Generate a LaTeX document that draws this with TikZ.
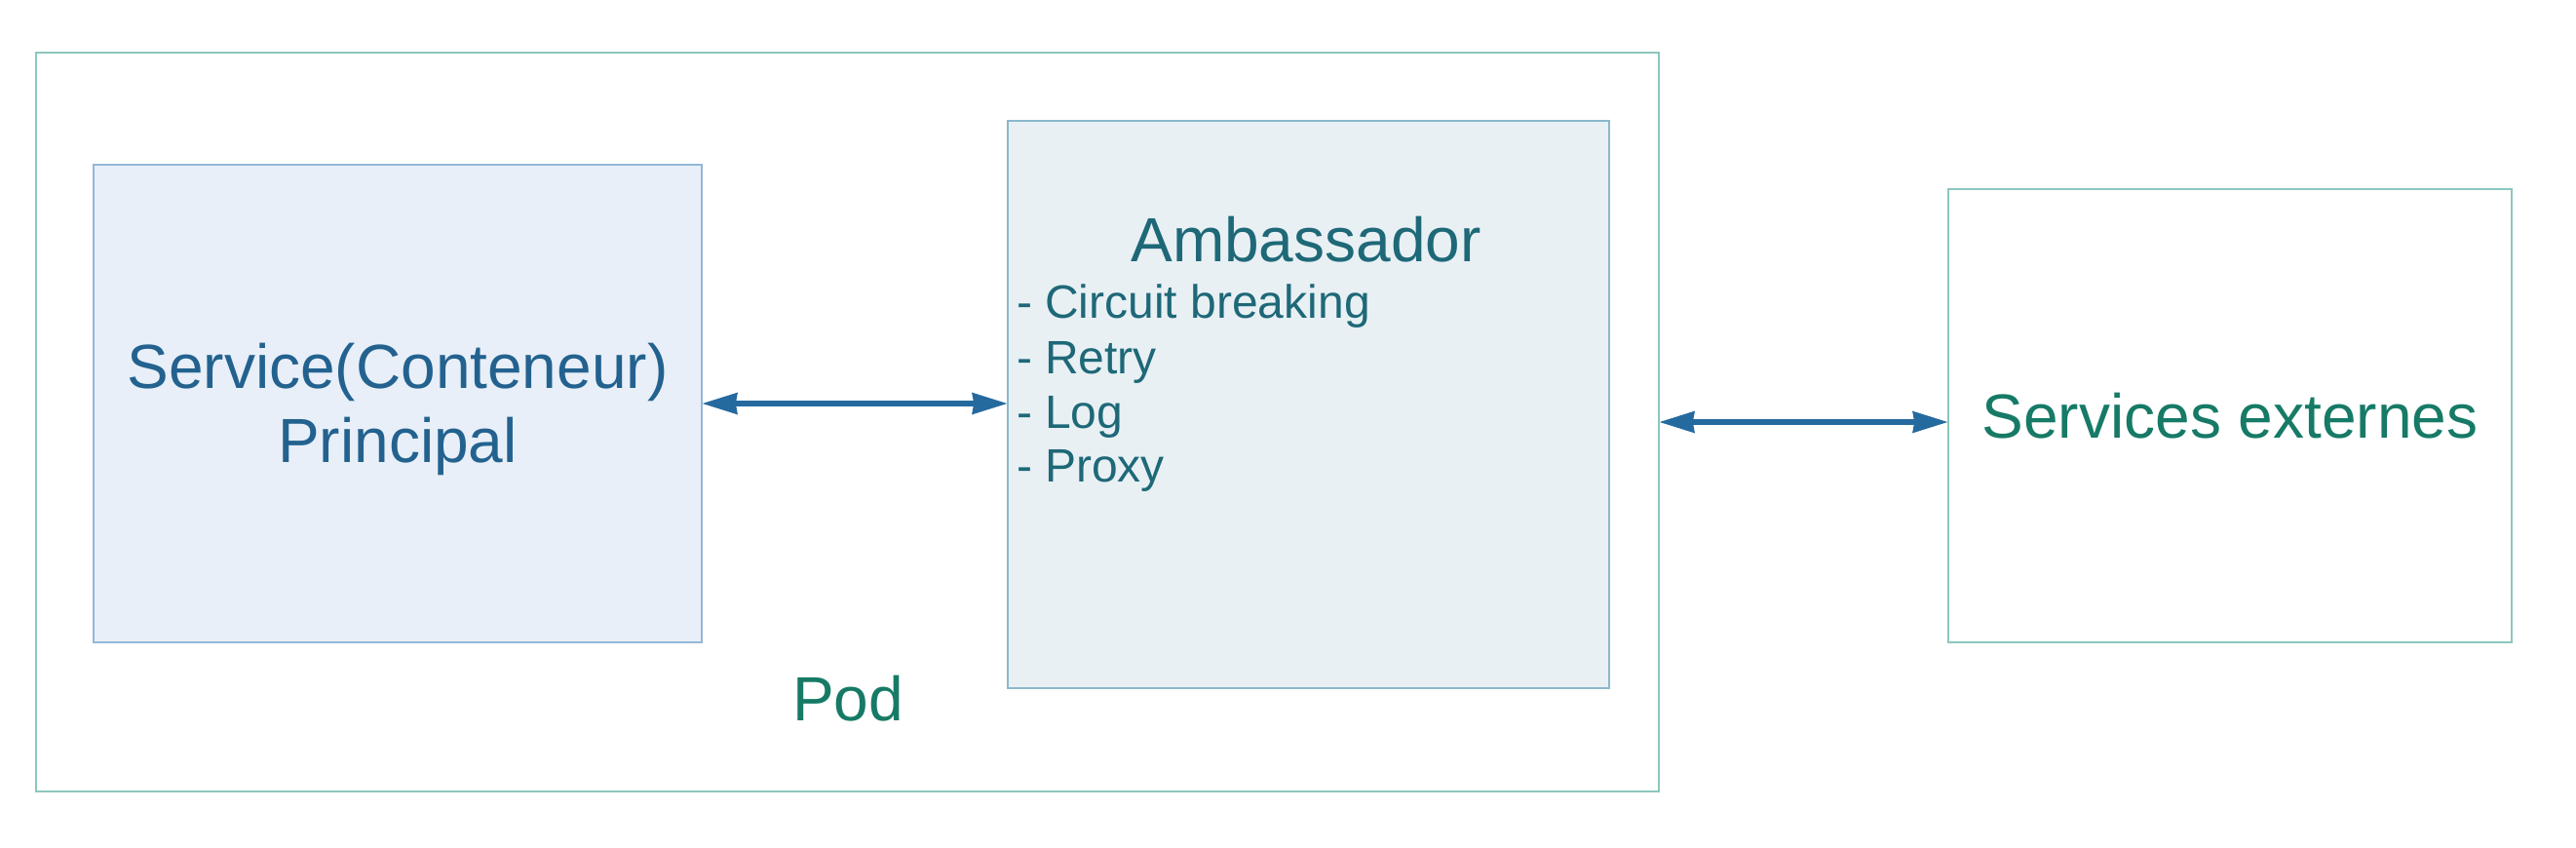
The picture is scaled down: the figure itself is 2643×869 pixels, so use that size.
\documentclass[tikz,border=0pt]{standalone}
\usepackage{fontspec}
\setmainfont{Liberation Sans}
\usetikzlibrary{arrows.meta}
\definecolor{podline}{HTML}{8CC7BF}
\definecolor{svcfill}{HTML}{E8EFF8}
\definecolor{svcline}{HTML}{93B8D8}
\definecolor{ambfill}{HTML}{E8F0F4}
\definecolor{ambline}{HTML}{8AB8CC}
\definecolor{svctext}{HTML}{23628F}
\definecolor{ambtext}{HTML}{1E6878}
\definecolor{exttext}{HTML}{167A66}
\definecolor{arrowcol}{HTML}{256A9F}
\begin{document}
\begin{tikzpicture}[x=0.5pt,y=-0.5pt,
  box/.style={draw, line width=1pt, inner sep=0pt, outer sep=0pt},
  txt/.style={inner sep=0pt, outer sep=0pt, anchor=base},
  arr/.style={draw=arrowcol, line width=3pt,
    {Stealth[length=18pt,width=10.5pt,inset=0.6pt]}-{Stealth[length=18pt,width=10.5pt,inset=0.6pt]}}]
\useasboundingbox (0,0) rectangle (2643,869);
% Pod
\node[box, draw=podline, minimum width=832.5pt, minimum height=379pt] (pod) at (869.5,433) {};
% Service
\node[box, draw=svcline, fill=svcfill, minimum width=312pt, minimum height=245pt] (svc) at (408,414) {};
% Ambassador
\node[box, draw=ambline, fill=ambfill, minimum width=308.5pt, minimum height=291pt] (amb) at (1342.5,415) {};
% External services
\node[box, draw=podline, minimum width=289pt, minimum height=232.5pt] (ext) at (2288,426.5) {};
% Texts
\node[txt, text=svctext, font=\fontsize{32pt}{38pt}\selectfont] (svct1) at (408,398) {Service(Conteneur)};
\node[txt, text=svctext, font=\fontsize{32pt}{38pt}\selectfont] (svct2) at (408,474) {Principal};
\node[txt, text=ambtext, font=\fontsize{32pt}{38pt}\selectfont] (ambt) at (1340,268) {Ambassador};
\node[txt, text=ambtext, font=\fontsize{24pt}{28pt}\selectfont, anchor=base west] (l1) at (1043,326) {- Circuit breaking};
\node[txt, text=ambtext, font=\fontsize{24pt}{28pt}\selectfont, anchor=base west] (l2) at (1043,383) {- Retry};
\node[txt, text=ambtext, font=\fontsize{24pt}{28pt}\selectfont, anchor=base west] (l3) at (1043,439) {- Log};
\node[txt, text=ambtext, font=\fontsize{24pt}{28pt}\selectfont, anchor=base west] (l4) at (1043,494) {- Proxy};
\node[txt, text=exttext, font=\fontsize{32pt}{38pt}\selectfont] (extt) at (2288,449) {Services externes};
\node[txt, text=exttext, font=\fontsize{32pt}{38pt}\selectfont] (podt) at (870,739) {Pod};
% Arrows
\coordinate (a2) at (0,433);
\draw[arr] (svc.east) -- (amb.west |- svc.east);
\draw[arr] (pod.east |- a2) -- (ext.west |- a2);
\end{tikzpicture}
\end{document}
